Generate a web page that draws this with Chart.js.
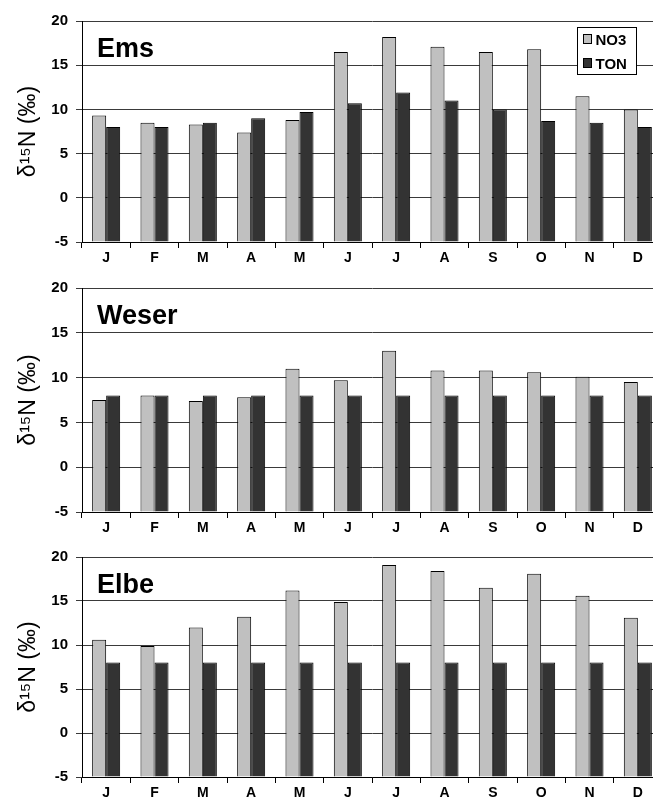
<!DOCTYPE html>
<html><head><meta charset="utf-8">
<script src="https://cdn.jsdelivr.net/npm/chart.js@4"></script>
<style>
html,body{margin:0;padding:0;background:#fff;overflow:hidden;width:653px;height:805px;position:relative;}
canvas{position:absolute;left:0;}
</style></head><body>
<canvas id="c1" width="665" height="270" style="top:0px"></canvas>
<canvas id="c2" width="665" height="270" style="top:270px"></canvas>
<canvas id="c3" width="665" height="265" style="top:540px"></canvas>
<script>
// ---- data ----
const months = ['J','F','M','A','M','J','J','A','S','O','N','D'];
const seriesNames = ['NO3','TON'];
const yMin = -5, yMax = 20, yStep = 5;
const panelNames = ['Ems','Weser','Elbe'];
const yTitle = 'δ¹⁵N (‰)';

const emsNO3   = [9.3, 8.5, 8.3, 7.4, 8.8, 16.5, 18.2, 17.1, 16.5, 16.8, 11.5, 10.0];
const emsTON   = [8.0, 8.0, 8.5, 9.0, 9.7, 10.7, 11.9, 11.0, 10.0, 8.7, 8.5, 8.0];
const weserNO3 = [7.5, 8.0, 7.4, 7.8, 11.0, 9.7, 13.0, 10.8, 10.8, 10.6, 10.1, 9.5];
const weserTON = [8.0, 8.0, 8.0, 8.0, 8.0, 8.0, 8.0, 8.0, 8.0, 8.0, 8.0, 8.0];
const elbeNO3  = [10.6, 9.9, 12.0, 13.2, 16.2, 14.9, 19.1, 18.4, 16.5, 18.1, 15.6, 13.1];
const elbeTON  = [8.0, 8.0, 8.0, 8.0, 8.0, 8.0, 8.0, 8.0, 8.0, 8.0, 8.0, 8.0];

const colors = ['#c0c0c0', '#333333'];

// ---- plugins ----
const panelTitle = {
  id: 'panelTitle',
  afterDatasetsDraw(chart, args, opts) {
    const {ctx, chartArea} = chart;
    ctx.save();
    ctx.font = 'bold 27px Arial, "Liberation Sans", sans-serif';
    ctx.fillStyle = '#000';
    ctx.textBaseline = 'alphabetic';
    ctx.textAlign = 'left';
    ctx.fillText(opts.text, chartArea.left + 15, chartArea.top + 36);
    ctx.restore();
  }
};

const boxLegend = {
  id: 'boxLegend',
  afterDraw(chart, args, opts) {
    if (!opts.show) return;
    const {ctx, chartArea} = chart;
    const x = Math.round(chartArea.right - 85) + 0.5;
    const y = Math.round(chartArea.top + 6) + 0.5;
    const w = 59, h = 47;
    ctx.save();
    ctx.fillStyle = '#fff';
    ctx.fillRect(x, y, w, h);
    ctx.strokeStyle = '#000';
    ctx.lineWidth = 1;
    ctx.strokeRect(x, y, w, h);
    ctx.font = 'bold 15px Arial, "Liberation Sans", sans-serif';
    ctx.textBaseline = 'middle';
    ctx.textAlign = 'left';
    chart.data.datasets.forEach((ds, i) => {
      const cy = y + 12 + i * 24;
      ctx.fillStyle = ds.backgroundColor;
      ctx.fillRect(x + 6, cy - 5, 8, 9);
      ctx.strokeStyle = '#000';
      ctx.strokeRect(x + 6, cy - 5, 8, 9);
      ctx.fillStyle = '#000';
      ctx.fillText(ds.label, x + 18, cy + 1);
    });
    ctx.restore();
  }
};

function makeChart(id, name, no3, ton, padTop, showLegend) {
  return new Chart(document.getElementById(id), {
    type: 'bar',
    data: {
      labels: months,
      datasets: [
        {label: seriesNames[0], data: no3, backgroundColor: colors[0], borderColor: '#000', borderWidth: 1, base: yMin},
        {label: seriesNames[1], data: ton, backgroundColor: colors[1], borderColor: '#000', borderWidth: 1, base: yMin}
      ]
    },
    options: {
      responsive: false,
      animation: false,
      devicePixelRatio: 1,
      layout: {padding: {top: padTop, right: 3, left: 0, bottom: 0}},
      datasets: {bar: {categoryPercentage: 0.58, barPercentage: 1.0}},
      plugins: {
        legend: {display: false},
        tooltip: {enabled: false},
        panelTitle: {text: name},
        boxLegend: {show: showLegend}
      },
      scales: {
        x: {
          type: 'category',
          afterFit: (s) => { s.height = 28; },
          grid: {display: true, offset: true, drawOnChartArea: false, drawTicks: true, tickLength: 6, color: '#000', lineWidth: 1},
          border: {display: true, color: '#000', width: 1},
          ticks: {color: '#000', padding: 2, maxRotation: 0, autoSkip: false,
                  font: {family: 'Arial, "Liberation Sans", sans-serif', size: 14, weight: 'bold'}}
        },
        y: {
          min: yMin, max: yMax,
          afterFit: (s) => { s.width = 82; },
          grid: {display: true, color: '#3a3a3a', lineWidth: 1, drawTicks: true, tickLength: 6},
          border: {display: true, color: '#000', width: 1},
          ticks: {stepSize: yStep, color: '#000', padding: 8,
                  font: {family: 'Arial, "Liberation Sans", sans-serif', size: 15, weight: 'bold'}},
          title: {display: true, text: yTitle, color: '#000', padding: {top: 15, bottom: 0},
                  font: {family: 'Arial, "Liberation Sans", sans-serif', size: 23, weight: 'normal'}}
        }
      }
    },
    plugins: [panelTitle, boxLegend]
  });
}

makeChart('c1', panelNames[0], emsNO3, emsTON, 21, true);
makeChart('c2', panelNames[1], weserNO3, weserTON, 18, false);
makeChart('c3', panelNames[2], elbeNO3, elbeTON, 16, false);
</script>
</body></html>
